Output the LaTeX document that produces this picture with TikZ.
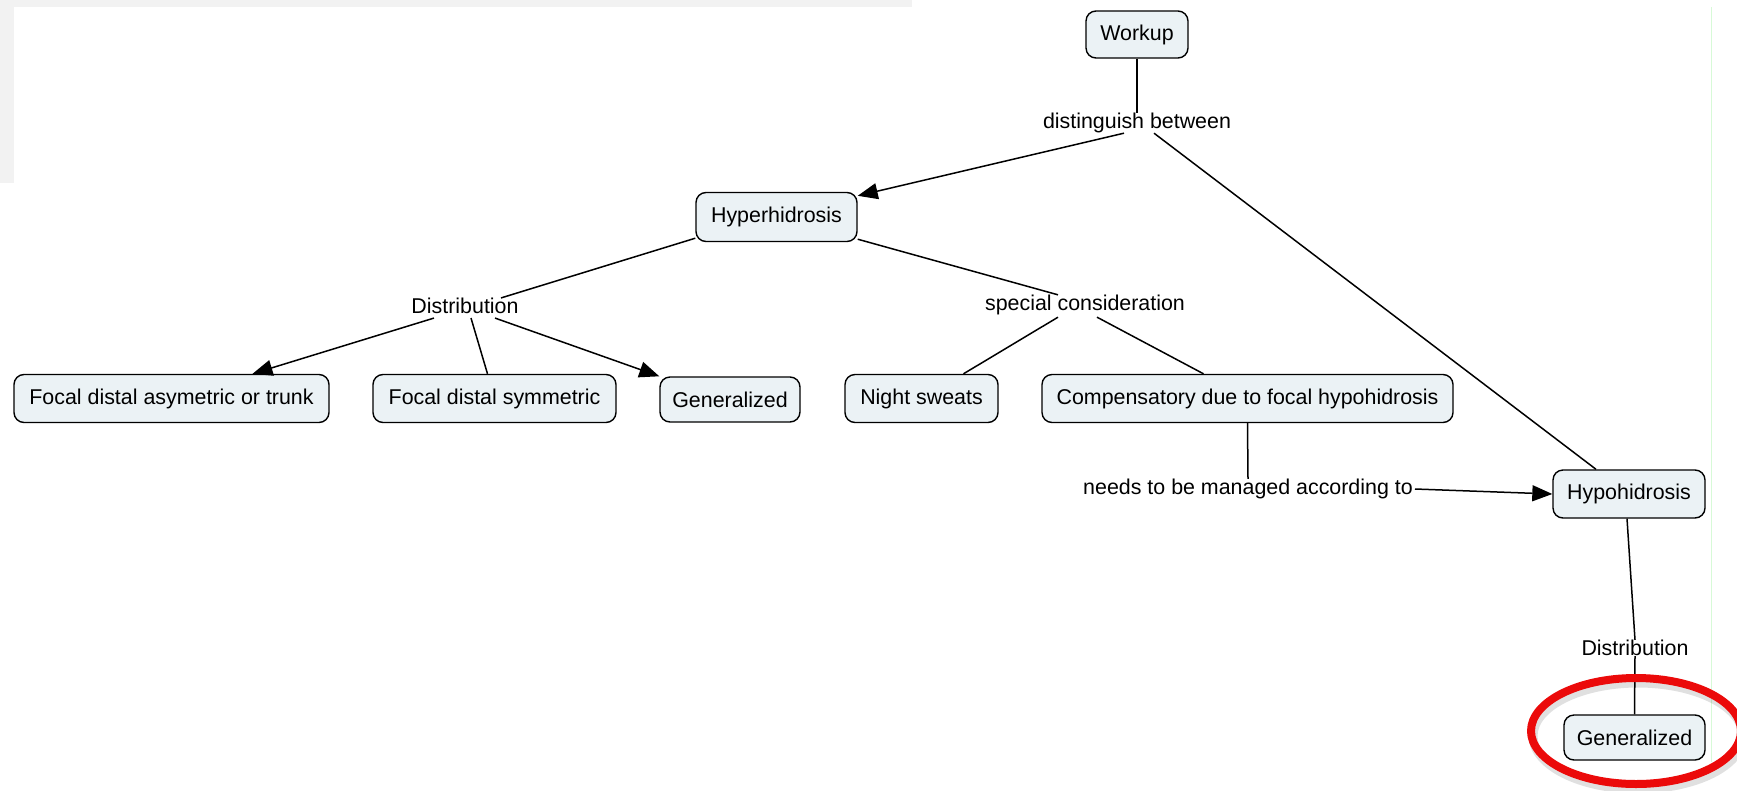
\documentclass[tikz,border=0pt]{standalone}
\usepackage{fontspec}
\setmainfont{Liberation Sans}
\usetikzlibrary{arrows.meta}
\definecolor{nodefill}{RGB}{235,242,245}
\definecolor{bandgrey}{RGB}{242,242,242}
\definecolor{faintgreen}{RGB}{215,250,215}
\definecolor{circred}{RGB}{235,10,10}
\begin{document}
\begin{tikzpicture}[x=1pt,y=-1pt,
  concept/.style={draw, line width=1.4pt, rounded corners=10pt, fill=nodefill,
    font=\fontsize{21.4}{25}\selectfont, minimum height=48pt, inner sep=0pt},
  lbl/.style={font=\fontsize{21.4}{25}\selectfont, inner sep=0pt},
  link/.style={line width=1.5pt},
  arr/.style={link, -{Triangle[length=20pt,width=16pt]}}
]
\useasboundingbox (0,0) rectangle (1737,790);
\fill[bandgrey] (0,0) rectangle (912,7);
\fill[bandgrey] (0,0) rectangle (14,183);
\draw[faintgreen, line width=1pt] (1711,7) -- (1711,762);

% concepts
\node[concept, minimum width=102pt, minimum height=47pt] (workup) at (1137,34.5) {Workup};
\node[concept, minimum width=161pt, minimum height=49pt] (hyper) at (776.5,217) {Hyperhidrosis};
\node[concept, minimum width=315pt] (fasym) at (171.5,398.5) {Focal distal asymetric or trunk};
\node[concept, minimum width=243pt] (fsym) at (494.5,398.5) {Focal distal symmetric};
\node[concept, minimum width=140pt, minimum height=45pt] (genL) at (730,399.5) {Generalized};
\node[concept, minimum width=153pt] (night) at (921.5,398.5) {Night sweats};
\node[concept, minimum width=411pt] (comp) at (1247.5,398.5) {Compensatory due to focal hypohidrosis};
\node[concept, minimum width=152pt] (hypo) at (1629,494) {Hypohidrosis};
\node[concept, minimum width=141pt, minimum height=45pt] (genR) at (1634.5,737.5) {Generalized};

% linking phrases
\node[lbl] (db) at (1137,123) {distinguish between};
\node[lbl] (distL) at (465,306) {Distribution};
\node[lbl] (spec) at (1085,305) {special consideration};
\node[lbl] (needs) at (1248,489) {needs to be managed according to};
\node[lbl] (distR) at (1635,648) {Distribution};

% connectors
\draw[link] (workup.south) -- (db.north);
\draw[arr] ([xshift=-13pt]db.south) -- ([yshift=-4pt]hyper.north east);
\draw[link] ([xshift=17pt]db.south) -- ([xshift=-33pt]hypo.north);

\draw[link] ([yshift=4pt]hyper.south west) -- ([xshift=36pt]distL.north);
\draw[arr] ([xshift=-31pt,yshift=-4pt]distL.south) -- ([xshift=81pt]fasym.north);
\draw[link] ([xshift=6pt,yshift=-4pt]distL.south) -- ([xshift=-7pt]fsym.north);
\draw[arr] ([xshift=30pt,yshift=-4pt]distL.south) -- (genL.north west);

\draw[link] ([yshift=3pt]hyper.south east) -- ([xshift=-27pt]spec.north);
\draw[link] ([xshift=-27pt,yshift=-2pt]spec.south) -- ([xshift=42pt]night.north);
\draw[link] ([xshift=12pt,yshift=-2pt]spec.south) -- ([xshift=-44pt]comp.north);

\draw[link] (comp.south) -- (needs.north);
\draw[arr] ([xshift=2pt]needs.east) -- (hypo.west);

\draw[link] ([xshift=-2pt]hypo.south) -- (distR.north);
\draw[link] (distR.south) -- (genR.north);

% highlight
\draw[black, opacity=0.12, line width=9pt] (1638,736) ellipse [x radius=105, y radius=53];
\draw[circred, line width=8pt] (1636,731) ellipse [x radius=105, y radius=53];
\end{tikzpicture}
\end{document}
